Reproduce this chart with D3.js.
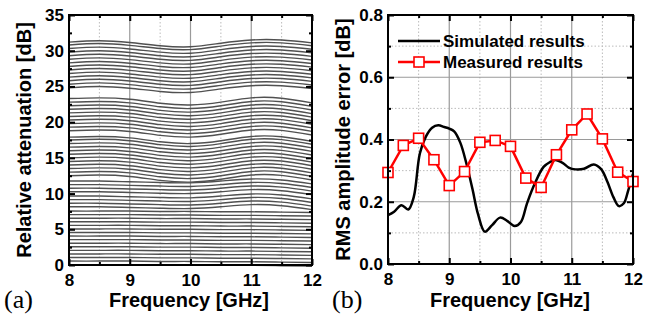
<!DOCTYPE html>
<html>
<head>
<meta charset="utf-8">
<script src="https://cdn.jsdelivr.net/npm/d3@7"></script>
<style>
  body { margin: 0; background: #fff; }
  svg { display: block; }
  .tick text { font-family: "Liberation Sans", Arial, sans-serif; font-weight: bold; font-size: 17px; fill: #000; }
  .title { font-family: "Liberation Sans", Arial, sans-serif; font-weight: bold; font-size: 20px; fill: #000; }
  .panel { font-family: "Liberation Serif", "Times New Roman", serif; font-size: 26px; fill: #000; }
  .legend { font-family: "Liberation Sans", Arial, sans-serif; font-weight: bold; font-size: 17px; fill: #000; }
</style>
</head>
<body>
<svg id="chart" width="650" height="320"></svg>
<script>
// ---- data: panel (a) ----
const freqs = [8, 8.5, 9, 9.5, 10, 10.5, 11, 11.5, 12]
const lowShape = [0.05, 0.05, 0.05, 0.0, 0.0, -0.05, -0.05, -0.1, -0.15]
const midShape = [0.15, 0.15, 0.05, -0.05, -0.1, 0.15, 0.45, 0.3, -0.25]
const waveShape = [0.4, 0.5, 0.3, -0.25, -0.5, -0.1, 0.5, 0.45, -0.2]
const topShape = [0.2, 0.4, 0.15, -0.3, -0.45, 0.05, 0.5, 0.5, 0.1]
const levels = [
  0.0, 0.5, 1.0, 1.5, 2.0, 2.5, 3.0, 3.5, 4.0, 4.5, 5.0, 5.5, 6.0, 6.5, 7.0, 7.5,
  8.0, 8.5, 9.0, 9.5, 10.1, 10.6, 11.1, 11.6, 12.1, 12.6, 13.1, 13.6, 14.1, 14.6, 15.1, 15.6,
  16.1, 16.6, 17.1, 17.5, 18.4, 18.9, 19.4, 19.9, 20.4, 20.9, 21.4, 21.9, 22.4, 22.9,
  24.6, 25.1, 25.6, 26.1, 26.6, 27.1, 27.6, 28.1, 28.6, 29.1, 29.6, 30.1, 30.6, 31.0
]

// ---- data: panel (b) ----
const measFreq = [8, 8.25, 8.5, 8.75, 9, 9.25, 9.5, 9.75, 10, 10.25, 10.5, 10.75, 11, 11.25, 11.5, 11.75, 12]
const measErr = [0.294, 0.381, 0.404, 0.335, 0.252, 0.297, 0.391, 0.397, 0.378, 0.276, 0.246, 0.351, 0.431, 0.482, 0.402, 0.295, 0.265]
const simFreq = [8.0, 8.1, 8.22, 8.33, 8.42, 8.52, 8.62, 8.72, 8.82, 8.92, 9.0, 9.08, 9.18, 9.28, 9.38, 9.47, 9.58, 9.7, 9.83, 9.95, 10.07, 10.17, 10.27, 10.4, 10.54, 10.64, 10.73, 10.85, 10.95, 11.06, 11.2, 11.36, 11.48, 11.58, 11.68, 11.77, 11.85, 11.92, 12.0]
const simErr = [0.157, 0.168, 0.189, 0.175, 0.215, 0.355, 0.41, 0.438, 0.446, 0.44, 0.435, 0.426, 0.39, 0.323, 0.24, 0.16, 0.104, 0.125, 0.149, 0.138, 0.122, 0.135, 0.195, 0.26, 0.312, 0.327, 0.334, 0.325, 0.31, 0.304, 0.306, 0.32, 0.305, 0.265, 0.215, 0.186, 0.195, 0.235, 0.29]

const xTicks = [8, 9, 10, 11, 12]
const xMinor = [8.5, 9.5, 10.5, 11.5]
const yTicksA = [0, 5, 10, 15, 20, 25, 30, 35]
const yTicksB = [0, 0.2, 0.4, 0.6, 0.8]
const legendLabels = ['Simulated results', 'Measured results']

const svg = d3.select('#chart')

function shapeFor(level) {
  if (level < 8) return lowShape
  if (level < 12) return midShape
  if (level < 24) return waveShape
  return topShape
}

function frame(g, x, y, yMajor, yMinor, yFmt) {
  const [x0, x1] = x.range()
  const [y0, y1] = y.range()
  // inward ticks on all four sides
  g.append('g').attr('transform', `translate(0,${y0})`)
    .call(d3.axisBottom(x).tickValues(xTicks).tickSize(-6).tickPadding(9).tickFormat(d3.format('d')))
  g.append('g').attr('transform', `translate(0,${y0})`)
    .call(d3.axisBottom(x).tickValues(xMinor).tickSize(-3).tickFormat(''))
  g.append('g').attr('transform', `translate(0,${y1})`)
    .call(d3.axisTop(x).tickValues(xTicks).tickSize(-6).tickFormat(''))
  g.append('g').attr('transform', `translate(0,${y1})`)
    .call(d3.axisTop(x).tickValues(xMinor).tickSize(-3).tickFormat(''))
  g.append('g').attr('transform', `translate(${x0},0)`)
    .call(d3.axisLeft(y).tickValues(yMajor).tickSize(-6).tickPadding(5).tickFormat(yFmt))
  g.append('g').attr('transform', `translate(${x0},0)`)
    .call(d3.axisLeft(y).tickValues(yMinor).tickSize(-3).tickFormat(''))
  g.append('g').attr('transform', `translate(${x1},0)`)
    .call(d3.axisRight(y).tickValues(yMajor).tickSize(-6).tickFormat(''))
  g.append('g').attr('transform', `translate(${x1},0)`)
    .call(d3.axisRight(y).tickValues(yMinor).tickSize(-3).tickFormat(''))
  g.selectAll('.domain').remove()
  g.selectAll('.tick line').attr('stroke', '#000').attr('stroke-width', 2)
  g.append('rect')
    .attr('x', x0).attr('y', y1).attr('width', x1 - x0).attr('height', y0 - y1)
    .attr('fill', 'none').attr('stroke', '#000').attr('stroke-width', 2)
}

// ================= panel (a) =================
const xA = d3.scaleLinear().domain([8, 12]).range([69, 312])
const yA = d3.scaleLinear().domain([0, 35]).range([265, 15])
const gA = svg.append('g')

gA.append('g').selectAll('line')
  .data(xTicks.slice(1, -1))
  .enter().append('line')
  .attr('x1', d => xA(d)).attr('x2', d => xA(d))
  .attr('y1', yA(0)).attr('y2', yA(35))
  .attr('stroke', '#9a9a9a').attr('stroke-width', 1.2)
gA.append('g').selectAll('line')
  .data(xMinor)
  .enter().append('line')
  .attr('x1', d => xA(d)).attr('x2', d => xA(d))
  .attr('y1', yA(0)).attr('y2', yA(35))
  .attr('stroke', '#bbb').attr('stroke-width', 1).attr('stroke-dasharray', '1.5,2')

const lineA = d3.line()
  .x(d => xA(d[0]))
  .y(d => yA(d[1]))
  .curve(d3.curveNatural)

gA.append('g').selectAll('path')
  .data(levels)
  .enter().append('path')
  .attr('d', lv => lineA(freqs.map((f, i) => [f, lv + shapeFor(lv)[i]])))
  .attr('fill', 'none')
  .attr('stroke', '#505050')
  .attr('stroke-width', 1.4)

frame(gA, xA, yA, yTicksA, [2.5, 7.5, 12.5, 17.5, 22.5, 27.5, 32.5], d3.format('d'))

gA.append('text').attr('class', 'title')
  .attr('transform', `translate(31,${(yA(0) + yA(35)) / 2}) rotate(-90)`)
  .attr('text-anchor', 'middle')
  .text('Relative attenuation [dB]')
gA.append('text').attr('class', 'title')
  .attr('x', 189).attr('y', 307).attr('text-anchor', 'middle')
  .text('Frequency [GHz]')
gA.append('text').attr('class', 'panel')
  .attr('x', 4).attr('y', 308)
  .text('(a)')

// ================= panel (b) =================
const xB = d3.scaleLinear().domain([8, 12]).range([388, 633])
const yB = d3.scaleLinear().domain([0, 0.8]).range([264, 15])
const gB = svg.append('g')

gB.append('g').selectAll('line')
  .data(xTicks.slice(1, -1))
  .enter().append('line')
  .attr('x1', d => xB(d)).attr('x2', d => xB(d))
  .attr('y1', yB(0)).attr('y2', yB(0.8))
  .attr('stroke', '#9a9a9a').attr('stroke-width', 1.2)
gB.append('g').selectAll('line')
  .data(xMinor)
  .enter().append('line')
  .attr('x1', d => xB(d)).attr('x2', d => xB(d))
  .attr('y1', yB(0)).attr('y2', yB(0.8))
  .attr('stroke', '#bbb').attr('stroke-width', 1).attr('stroke-dasharray', '1.5,2')
gB.append('g').selectAll('line')
  .data(yTicksB.slice(1, -1))
  .enter().append('line')
  .attr('x1', xB(8)).attr('x2', xB(12))
  .attr('y1', d => yB(d)).attr('y2', d => yB(d))
  .attr('stroke', '#9a9a9a').attr('stroke-width', 1.2)
gB.append('g').selectAll('line')
  .data([0.1, 0.3, 0.5, 0.7])
  .enter().append('line')
  .attr('x1', xB(8)).attr('x2', xB(12))
  .attr('y1', d => yB(d)).attr('y2', d => yB(d))
  .attr('stroke', '#bbb').attr('stroke-width', 1).attr('stroke-dasharray', '1.5,2')

const simLine = d3.line()
  .x((d, i) => xB(simFreq[i]))
  .y(d => yB(d))
  .curve(d3.curveCatmullRom.alpha(0.5))
gB.append('path')
  .attr('d', simLine(simErr))
  .attr('fill', 'none').attr('stroke', '#000').attr('stroke-width', 2.5)

const measLine = d3.line()
  .x((d, i) => xB(measFreq[i]))
  .y(d => yB(d))
gB.append('path')
  .attr('d', measLine(measErr))
  .attr('fill', 'none').attr('stroke', '#ff0000').attr('stroke-width', 2.5)
gB.append('g').selectAll('rect')
  .data(measErr)
  .enter().append('rect')
  .attr('x', (d, i) => xB(measFreq[i]) - 5)
  .attr('y', d => yB(d) - 5)
  .attr('width', 10).attr('height', 10)
  .attr('fill', '#fff').attr('stroke', '#ff0000').attr('stroke-width', 1.6)

frame(gB, xB, yB, yTicksB, [0.1, 0.3, 0.5, 0.7], d3.format('.1f'))

// legend
const leg = gB.append('g')
leg.append('line').attr('x1', 398).attr('x2', 440).attr('y1', 41).attr('y2', 41)
  .attr('stroke', '#000').attr('stroke-width', 2.5)
leg.append('line').attr('x1', 398).attr('x2', 440).attr('y1', 62).attr('y2', 62)
  .attr('stroke', '#ff0000').attr('stroke-width', 2.5)
leg.append('rect').attr('x', 414).attr('y', 57).attr('width', 10).attr('height', 10)
  .attr('fill', '#fff').attr('stroke', '#ff0000').attr('stroke-width', 1.6)
leg.selectAll('text')
  .data(legendLabels)
  .enter().append('text').attr('class', 'legend')
  .attr('x', 443).attr('y', (d, i) => 47 + i * 21)
  .text(d => d)

gB.append('text').attr('class', 'title')
  .attr('transform', `translate(350,${(yB(0) + yB(0.8)) / 2}) rotate(-90)`)
  .attr('text-anchor', 'middle')
  .text('RMS amplitude error [dB]')
gB.append('text').attr('class', 'title')
  .attr('x', 510).attr('y', 307).attr('text-anchor', 'middle')
  .text('Frequency [GHz]')
gB.append('text').attr('class', 'panel')
  .attr('x', 332).attr('y', 308)
  .text('(b)')
</script>
</body>
</html>
